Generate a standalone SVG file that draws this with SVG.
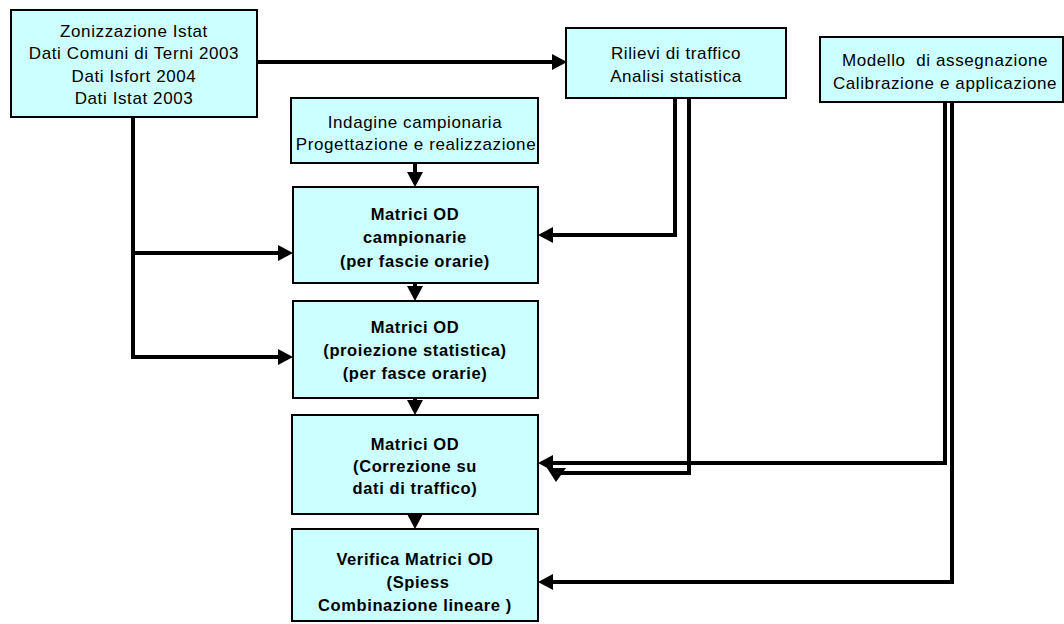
<svg xmlns="http://www.w3.org/2000/svg" width="1064" height="624" viewBox="0 0 1064 624">
<style>
.box{fill:#CCFFFF;stroke:#000;stroke-width:2}
.t{font-family:"Liberation Sans",Arial,sans-serif;font-size:17px;letter-spacing:0.6px;text-anchor:middle;fill:#000;white-space:pre}
.b{font-family:"Liberation Sans",Arial,sans-serif;font-size:16.5px;font-weight:bold;letter-spacing:0.6px;text-anchor:middle;fill:#000}
.c{fill:none;stroke:#000;stroke-width:4;stroke-linejoin:miter}
</style>
<defs>
<marker id="ah" viewBox="0 0 15 16" refX="5" refY="8" markerWidth="15" markerHeight="16" markerUnits="userSpaceOnUse" orient="auto">
<path d="M0,0 L15,8 L0,16 z" fill="#000"/>
</marker>
</defs>
<rect width="1064" height="624" fill="#fff"/>
<g id="connectors">
<path class="c" d="M257,62 H557" marker-end="url(#ah)"/>
<path class="c" d="M133,115 V357 H283" marker-end="url(#ah)"/>
<path class="c" d="M133,253 H283" marker-end="url(#ah)"/>
<path class="c" d="M415,163 V177" marker-end="url(#ah)"/>
<path class="c" d="M675,98 V235 H548" marker-end="url(#ah)"/>
<path class="c" d="M689,98 V473 H554"/>
<polygon points="547,468 566,468 556,482" fill="#000"/>
<path class="c" d="M945,100 V463 H548" marker-end="url(#ah)"/>
<path class="c" d="M952,102 V582 H548" marker-end="url(#ah)"/>
<path class="c" d="M415,283 V291" marker-end="url(#ah)"/>
<path class="c" d="M415,398 V405" marker-end="url(#ah)"/>
<path class="c" d="M415,514 V519" marker-end="url(#ah)"/>
</g>
<g id="zonizzazione">
<rect class="box" x="11" y="10" width="246" height="107"/>
<text class="t" x="134" y="37">Zonizzazione Istat</text>
<text class="t" x="134" y="59">Dati Comuni di Terni 2003</text>
<text class="t" x="134" y="82">Dati Isfort 2004</text>
<text class="t" x="134" y="104">Dati Istat 2003</text>
</g>
<g id="rilievi">
<rect class="box" x="566" y="28" width="220" height="70"/>
<text class="t" x="676" y="59">Rilievi di traffico</text>
<text class="t" x="676" y="82">Analisi statistica</text>
</g>
<g id="modello">
<rect class="box" x="820" y="37" width="243" height="65"/>
<text class="t" x="945" y="66" xml:space="preserve">Modello  di assegnazione</text>
<text class="t" x="945" y="89">Calibrazione e applicazione</text>
</g>
<g id="indagine">
<rect class="box" x="291" y="98" width="247" height="65"/>
<text class="t" x="415" y="128">Indagine campionaria</text>
<text class="t" x="416" y="150">Progettazione e realizzazione</text>
</g>
<g id="matrici-campionarie">
<rect class="box" x="293" y="187" width="245" height="96"/>
<text class="b" x="415" y="220">Matrici OD</text>
<text class="b" x="415" y="243">campionarie</text>
<text class="b" x="415" y="267">(per fascie orarie)</text>
</g>
<g id="matrici-proiezione">
<rect class="box" x="293" y="301" width="245" height="97"/>
<text class="b" x="415" y="333">Matrici OD</text>
<text class="b" x="415" y="356">(proiezione statistica)</text>
<text class="b" x="415" y="379">(per fasce orarie)</text>
</g>
<g id="matrici-correzione">
<rect class="box" x="292" y="415" width="246" height="99"/>
<text class="b" x="415" y="450">Matrici OD</text>
<text class="b" x="415" y="472">(Correzione su</text>
<text class="b" x="415" y="494">dati di traffico)</text>
</g>
<g id="verifica">
<rect class="box" x="292" y="529" width="246" height="92"/>
<text class="b" x="415" y="565">Verifica Matrici OD</text>
<text class="b" x="418" y="588">(Spiess</text>
<text class="b" x="415" y="611">Combinazione lineare )</text>
</g>
</svg>
